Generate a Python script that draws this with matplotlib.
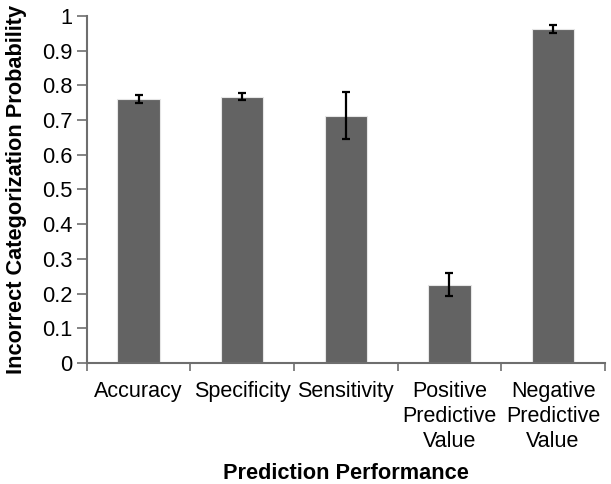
import numpy as np
from matplotlib import pyplot as plt

plt.rcParams['font.family'] = ['Liberation Sans', 'DejaVu Sans']

CATEGORIAS = ["Accuracy", "Specificity", "Sensitivity",
              "Positive\nPredictive\nValue", "Negative\nPredictive\nValue"]
VALORES = [0.761, 0.767, 0.713, 0.226, 0.963]
ERRORES = [0.012, 0.010, 0.067, 0.034, 0.011]
Y_TICKS = [0, 0.1, 0.2, 0.3, 0.4, 0.5, 0.6, 0.7, 0.8, 0.9, 1]
Y_LABELS = ["0", "0.1", "0.2", "0.3", "0.4", "0.5", "0.6", "0.7", "0.8", "0.9", "1"]

GRIS_EJE = "#6e6e6e"

fig = plt.figure(figsize=(6.11, 4.84), dpi=100)
ax = fig.add_axes([0.142, 0.25, 0.848, 0.717])

x = np.arange(len(CATEGORIAS))
ax.bar(x, VALORES, width=0.41, color="#636363", edgecolor="#e6e6e6", linewidth=0.8,
       zorder=2)
ax.errorbar(x, VALORES, yerr=ERRORES, fmt="none", ecolor="black", elinewidth=1.6,
            capsize=2.8, capthick=1.6, zorder=3)

ax.set_xlim(-0.5, len(CATEGORIAS) - 0.5)
ax.set_ylim(0, 1)

# ticks mayores en los bordes, etiquetas en el centro
ax.set_xticks(np.arange(len(CATEGORIAS) + 1) - 0.5)
ax.set_xticklabels([])
ax.set_xticks(x, minor=True)
ax.set_xticklabels(CATEGORIAS, minor=True, fontsize=15.5, linespacing=1.25)
ax.tick_params(axis="x", which="minor", length=0, pad=13)
ax.tick_params(axis="x", which="major", length=6, width=1.2, color=GRIS_EJE,
               direction="out")

ax.set_yticks(Y_TICKS)
ax.set_yticklabels(Y_LABELS, fontsize=15.75)
ax.tick_params(axis="y", length=7, width=1.2, color=GRIS_EJE, pad=3)

for lado in ["top", "right"]:
    ax.spines[lado].set_visible(False)
for lado in ["left", "bottom"]:
    ax.spines[lado].set_color(GRIS_EJE)
    ax.spines[lado].set_linewidth(1.5)

ax.set_ylabel("Incorrect Categorization Probability", fontsize=15.7,
              fontweight="bold", labelpad=11)
ax.set_xlabel("Prediction Performance", fontsize=15.7, fontweight="bold",
              labelpad=8)

fig.savefig("out.png", dpi=100)
